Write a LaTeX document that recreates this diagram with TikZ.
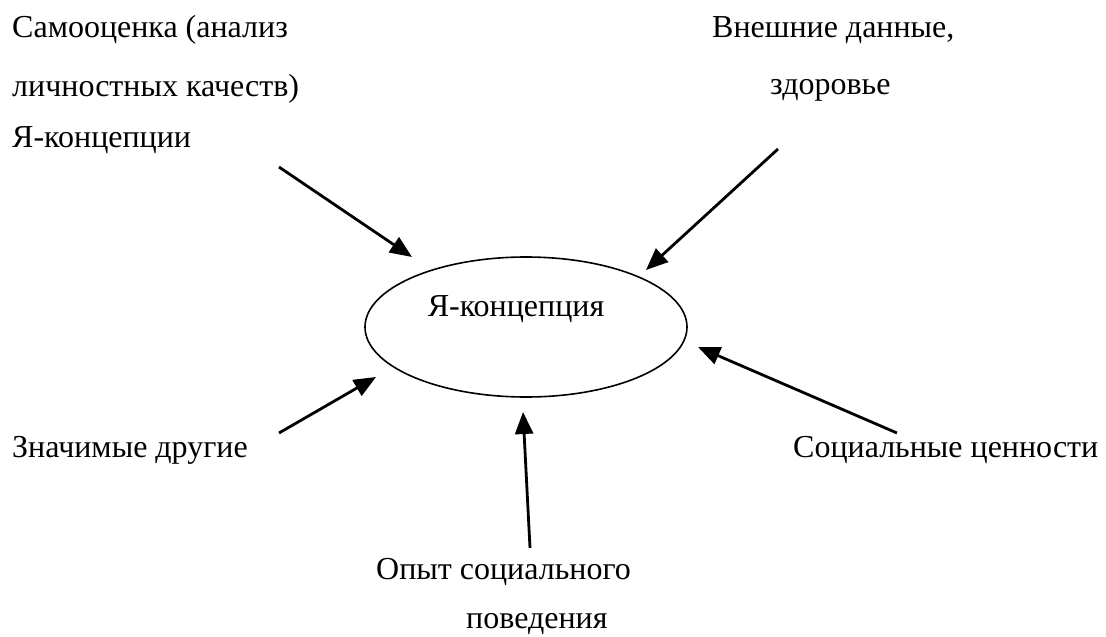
\documentclass[tikz,border=0pt]{standalone}
\usepackage{fontspec}
\setmainfont{Liberation Serif}
\usetikzlibrary{arrows.meta,shapes.geometric}
\begin{document}
\begin{tikzpicture}[x=1pt,y=-1pt,
  lbl/.style={anchor=base west,inner sep=0pt,font=\fontsize{32}{38}\selectfont},
  arr/.style={line width=2.8pt,-{Triangle[length=22pt,width=18pt]}},
  oval/.style={draw,ellipse,line width=1.6pt,inner sep=0pt}]
\useasboundingbox (0,0) rectangle (1106,637);
% centre
\node[oval,minimum width=322pt,minimum height=140pt] (c) at (526,327) {};
\node[lbl,anchor=base] (ct) at (516,316) {Я-концепция};
% labels
\node[lbl] (a1) at (12,37) {Самооценка (анализ};
\node[lbl] (a2) at (12,96) {личностных качеств)};
\node[lbl] (a3) at (12,147) {Я-концепции};
\node[lbl] (b1) at (712,37) {Внешние данные,};
\node[lbl] (b2) at (770,94) {здоровье};
\node[lbl] (d1) at (12,457) {Значимые другие};
\node[lbl] (e1) at (793,457) {Социальные ценности};
\node[lbl] (f1) at (376,579) {Опыт социального};
\node[lbl] (f2) at (466,628) {поведения};
% arrow ends
\coordinate (t1) at (279,167); \coordinate (h1) at (412,257);
\coordinate (t2) at (778,149); \coordinate (h2) at (646,270);
\coordinate (t3) at (279,433); \coordinate (h3) at (376,377);
\coordinate (t4) at (897,433); \coordinate (h4) at (698,347);
\coordinate (t5) at (530,548); \coordinate (h5) at (523,412);
\draw[arr] (t1) -- (h1);
\draw[arr] (t2) -- (h2);
\draw[arr] (t3) -- (h3);
\draw[arr] (t4) -- (h4);
\draw[arr] (t5) -- (h5);
\end{tikzpicture}
\end{document}
